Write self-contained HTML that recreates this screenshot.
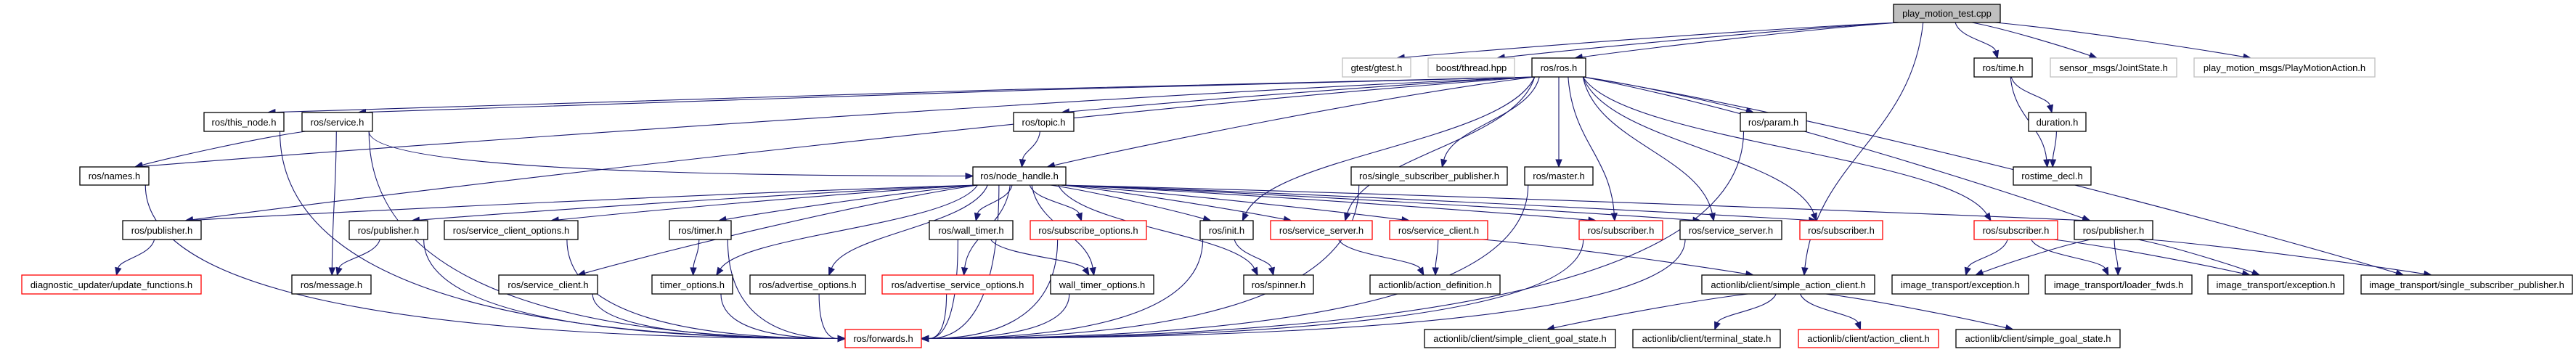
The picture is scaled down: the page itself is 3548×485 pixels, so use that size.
<!DOCTYPE html>
<html><head><meta charset="utf-8"><style>
html,body{margin:0;padding:0;background:#fff;width:3548px;height:485px;overflow:hidden}
svg{display:block}
text{font-family:"Liberation Sans",Arial,sans-serif;font-size:13px;fill:#000}
</style></head><body>
<svg id="g" width="3548" height="485" xmlns="http://www.w3.org/2000/svg">
<g id="edges" fill="none" stroke="#191970" stroke-width="1.1"></g>
<g id="heads" fill="#191970" stroke="#191970"></g>
<g id="nodes" stroke-width="1.3">
<rect x="2608" y="6" width="147" height="25" fill="#bfbfbf" stroke="#000"/><text x="2681.5" y="23" text-anchor="middle">play_motion_test.cpp</text>
<rect x="1849" y="80" width="94" height="26" fill="#fff" stroke="#bfbfbf"/><text x="1896" y="98" text-anchor="middle">gtest/gtest.h</text>
<rect x="1967" y="80" width="119" height="26" fill="#fff" stroke="#bfbfbf"/><text x="2026.5" y="98" text-anchor="middle">boost/thread.hpp</text>
<rect x="2110" y="80" width="74" height="26" fill="#fff" stroke="#000"/><text x="2147" y="98" text-anchor="middle">ros/ros.h</text>
<rect x="2719" y="80" width="80" height="26" fill="#fff" stroke="#000"/><text x="2759" y="98" text-anchor="middle">ros/time.h</text>
<rect x="2824" y="80" width="174" height="26" fill="#fff" stroke="#bfbfbf"/><text x="2911" y="98" text-anchor="middle">sensor_msgs/JointState.h</text>
<rect x="3022" y="80" width="249" height="26" fill="#fff" stroke="#bfbfbf"/><text x="3146.5" y="98" text-anchor="middle">play_motion_msgs/PlayMotionAction.h</text>
<rect x="281" y="155" width="110" height="26" fill="#fff" stroke="#000"/><text x="336" y="173" text-anchor="middle">ros/this_node.h</text>
<rect x="416" y="155" width="97" height="26" fill="#fff" stroke="#000"/><text x="464.5" y="173" text-anchor="middle">ros/service.h</text>
<rect x="1396" y="155" width="83" height="26" fill="#fff" stroke="#000"/><text x="1437.5" y="173" text-anchor="middle">ros/topic.h</text>
<rect x="2397" y="155" width="91" height="26" fill="#fff" stroke="#000"/><text x="2442.5" y="173" text-anchor="middle">ros/param.h</text>
<rect x="2794" y="155" width="79" height="26" fill="#fff" stroke="#000"/><text x="2833.5" y="173" text-anchor="middle">duration.h</text>
<rect x="110" y="230" width="95" height="25" fill="#fff" stroke="#000"/><text x="157.5" y="247" text-anchor="middle">ros/names.h</text>
<rect x="1340" y="230" width="128" height="25" fill="#fff" stroke="#000"/><text x="1404" y="247" text-anchor="middle">ros/node_handle.h</text>
<rect x="1861" y="230" width="215" height="25" fill="#fff" stroke="#000"/><text x="1968.5" y="247" text-anchor="middle">ros/single_subscriber_publisher.h</text>
<rect x="2100" y="230" width="94" height="25" fill="#fff" stroke="#000"/><text x="2147" y="247" text-anchor="middle">ros/master.h</text>
<rect x="2773" y="230" width="107" height="25" fill="#fff" stroke="#000"/><text x="2826.5" y="247" text-anchor="middle">rostime_decl.h</text>
<rect x="169" y="304" width="108" height="26" fill="#fff" stroke="#000"/><text x="223" y="322" text-anchor="middle">ros/publisher.h</text>
<rect x="481" y="304" width="108" height="26" fill="#fff" stroke="#000"/><text x="535" y="322" text-anchor="middle">ros/publisher.h</text>
<rect x="612" y="304" width="184" height="26" fill="#fff" stroke="#000"/><text x="704" y="322" text-anchor="middle">ros/service_client_options.h</text>
<rect x="922" y="304" width="85" height="26" fill="#fff" stroke="#000"/><text x="964.5" y="322" text-anchor="middle">ros/timer.h</text>
<rect x="1280" y="304" width="115" height="26" fill="#fff" stroke="#000"/><text x="1337.5" y="322" text-anchor="middle">ros/wall_timer.h</text>
<rect x="1419" y="304" width="160" height="26" fill="#fff" stroke="#ff0000"/><text x="1499" y="322" text-anchor="middle">ros/subscribe_options.h</text>
<rect x="1653" y="304" width="73" height="26" fill="#fff" stroke="#000"/><text x="1689.5" y="322" text-anchor="middle">ros/init.h</text>
<rect x="1750" y="304" width="140" height="26" fill="#fff" stroke="#ff0000"/><text x="1820" y="322" text-anchor="middle">ros/service_server.h</text>
<rect x="1914" y="304" width="135" height="26" fill="#fff" stroke="#ff0000"/><text x="1981.5" y="322" text-anchor="middle">ros/service_client.h</text>
<rect x="2175" y="304" width="115" height="26" fill="#fff" stroke="#ff0000"/><text x="2232.5" y="322" text-anchor="middle">ros/subscriber.h</text>
<rect x="2314" y="304" width="140" height="26" fill="#fff" stroke="#000"/><text x="2384" y="322" text-anchor="middle">ros/service_server.h</text>
<rect x="2479" y="304" width="114" height="26" fill="#fff" stroke="#ff0000"/><text x="2536" y="322" text-anchor="middle">ros/subscriber.h</text>
<rect x="2719" y="304" width="115" height="26" fill="#fff" stroke="#ff0000"/><text x="2776.5" y="322" text-anchor="middle">ros/subscriber.h</text>
<rect x="2857" y="304" width="108" height="26" fill="#fff" stroke="#000"/><text x="2911" y="322" text-anchor="middle">ros/publisher.h</text>
<rect x="30" y="379" width="247" height="26" fill="#fff" stroke="#ff0000"/><text x="153.5" y="397" text-anchor="middle">diagnostic_updater/update_functions.h</text>
<rect x="402" y="379" width="109" height="26" fill="#fff" stroke="#000"/><text x="456.5" y="397" text-anchor="middle">ros/message.h</text>
<rect x="687" y="379" width="136" height="26" fill="#fff" stroke="#000"/><text x="755" y="397" text-anchor="middle">ros/service_client.h</text>
<rect x="898" y="379" width="111" height="26" fill="#fff" stroke="#000"/><text x="953.5" y="397" text-anchor="middle">timer_options.h</text>
<rect x="1033" y="379" width="159" height="26" fill="#fff" stroke="#000"/><text x="1112.5" y="397" text-anchor="middle">ros/advertise_options.h</text>
<rect x="1215" y="379" width="208" height="26" fill="#fff" stroke="#ff0000"/><text x="1319" y="397" text-anchor="middle">ros/advertise_service_options.h</text>
<rect x="1447" y="379" width="142" height="26" fill="#fff" stroke="#000"/><text x="1518" y="397" text-anchor="middle">wall_timer_options.h</text>
<rect x="1713" y="379" width="96" height="26" fill="#fff" stroke="#000"/><text x="1761" y="397" text-anchor="middle">ros/spinner.h</text>
<rect x="1887" y="379" width="179" height="26" fill="#fff" stroke="#000"/><text x="1976.5" y="397" text-anchor="middle">actionlib/action_definition.h</text>
<rect x="2344" y="379" width="238" height="26" fill="#fff" stroke="#000"/><text x="2463" y="397" text-anchor="middle">actionlib/client/simple_action_client.h</text>
<rect x="2606" y="379" width="188" height="26" fill="#fff" stroke="#000"/><text x="2700" y="397" text-anchor="middle">image_transport/exception.h</text>
<rect x="2817" y="379" width="202" height="26" fill="#fff" stroke="#000"/><text x="2918" y="397" text-anchor="middle">image_transport/loader_fwds.h</text>
<rect x="3041" y="379" width="187" height="26" fill="#fff" stroke="#000"/><text x="3134.5" y="397" text-anchor="middle">image_transport/exception.h</text>
<rect x="3252" y="379" width="291" height="26" fill="#fff" stroke="#000"/><text x="3397.5" y="397" text-anchor="middle">image_transport/single_subscriber_publisher.h</text>
<rect x="1164" y="454" width="105" height="25" fill="#fff" stroke="#ff0000"/><text x="1216.5" y="471" text-anchor="middle">ros/forwards.h</text>
<rect x="1962" y="454" width="263" height="25" fill="#fff" stroke="#000"/><text x="2093.5" y="471" text-anchor="middle">actionlib/client/simple_client_goal_state.h</text>
<rect x="2249" y="454" width="203" height="25" fill="#fff" stroke="#000"/><text x="2350.5" y="471" text-anchor="middle">actionlib/client/terminal_state.h</text>
<rect x="2477" y="454" width="193" height="25" fill="#fff" stroke="#ff0000"/><text x="2573.5" y="471" text-anchor="middle">actionlib/client/action_client.h</text>
<rect x="2694" y="454" width="226" height="25" fill="#fff" stroke="#000"/><text x="2807" y="471" text-anchor="middle">actionlib/client/simple_goal_state.h</text>
</g>
</svg>
<script>
(function(){
var N={
pm:[2608,2755,6],gt:[1849,1943,80],bt:[1967,2086,80],ros:[2110,2184,80],tm:[2719,2799,80],js:[2824,2998,80],pma:[3022,3271,80],
tn:[281,391,155],sv:[416,513,155],tp:[1396,1479,155],pr:[2397,2488,155],du:[2794,2873,155],
nm:[110,205,230],nh:[1340,1468,230],ssp:[1861,2076,230],ms:[2100,2194,230],rd:[2773,2880,230],
p1:[169,277,304],p2:[481,589,304],sco:[612,796,304],ti:[922,1007,304],wt:[1280,1395,304],so:[1419,1579,304],in:[1653,1726,304],
ssr:[1750,1890,304],scr:[1914,2049,304],sb1:[2175,2290,304],ssb:[2314,2454,304],sb2:[2479,2593,304],sb3:[2719,2834,304],p3:[2857,2965,304],
du2:[30,277,379],mg:[402,511,379],sc:[687,823,379],to:[898,1009,379],ao:[1033,1192,379],aso:[1215,1423,379],wto:[1447,1589,379],sp:[1713,1809,379],
ad:[1887,2066,379],sac:[2344,2582,379],ie1:[2606,2794,379],lf:[2817,3019,379],ie2:[3041,3228,379],issp:[3252,3543,379],
fw:[1164,1269,454],scg:[1962,2225,454],ts:[2249,2452,454],ac:[2477,2670,454],sg:[2694,2920,454]};
var E=[['pm','gt'],['pm','bt'],['pm','ros'],['pm','tm'],['pm','js'],['pm','pma'],['pm','sac'],
['ros','tn'],['ros','sv'],['ros','nm'],['ros','p1'],['ros','tp'],['ros','nh'],['ros','ssp'],['ros','ms'],['ros','pr'],['ros','in'],['ros','ssr'],['ros','sb1'],['ros','ssb'],['ros','sb2'],['ros','sb3'],['ros','p3'],['ros','issp'],
['sv','nm'],['sv','mg'],['sv','fw'],['sv','nh','side'],['tn','fw'],['nm','fw'],['tp','nh'],
['nh','p1'],['nh','p2'],['nh','sco'],['nh','ti'],['nh','sc'],['nh','to'],['nh','ao'],['nh','aso'],['nh','wt'],['nh','wto'],['nh','so'],['nh','in'],['nh','sp'],['nh','ssr'],['nh','scr'],['nh','sb1'],['nh','ssb'],['nh','sb2'],['nh','p3'],['nh','fw'],
['p1','du2'],['p2','mg'],['p2','fw'],['sco','fw'],['ti','to'],['ti','fw'],['sc','fw'],['to','fw'],['ao','fw'],['aso','fw'],['wt','wto'],['wt','fw'],['wto','fw'],['so','fw'],['in','sp'],['in','fw'],
['ssr','ad'],['scr','ad'],['scr','sac'],['ssp','fw'],['ms','fw'],['sb1','fw'],['ssb','fw'],['pr','fw'],
['sac','scg'],['sac','ts'],['sac','ac'],['sac','sg'],['sb3','ie1'],['sb3','lf'],['sb3','ie2'],['p3','ie1'],['p3','lf'],['p3','ie2'],['p3','issp'],
['tm','du'],['tm','rd'],['du','rd']];
var eg=document.getElementById('edges'),hg=document.getElementById('heads'),ns='http://www.w3.org/2000/svg';
function H(b){return b[2]==6||b[2]==230||b[2]==454?25:26;}
function head(ax,ay,vx,vy){
 var L=Math.sqrt(vx*vx+vy*vy)||1;vx/=L;vy/=L;
 var bx=ax-vx*10,by=ay-vy*10;
 var a=document.createElementNS(ns,'polygon');
 a.setAttribute('points',ax+','+ay+' '+(bx-vy*4)+','+(by+vx*4)+' '+(bx+vy*4)+','+(by-vx*4));
 hg.appendChild(a);return [bx,by];
}
E.forEach(function(e){
 var s=N[e[0]],t=N[e[1]];
 var sc=(s[0]+s[1])/2,tc=(t[0]+t[1])/2,sw=s[1]-s[0],tw=t[1]-t[0];
 var sy=s[2]+H(s),ty=t[2],d;
 var dx=tc-sc;
 var sx=sc+Math.max(-sw*0.45,Math.min(sw*0.45,dx*0.15));
 var p=document.createElementNS(ns,'path');
 var side=(e[2]=='side')||(e[1]=='fw'&&(sc<t[0]-30||sc>t[1]+30));
 if(side){
  var left=sc<tc;
  var ex=left?t[0]:t[1], ey=t[2]+H(t)/2;
  var b=head(ex,ey,left?1:-1,0);
  var dy=ey-sy;
  d='M'+sx+','+sy+' C'+sx+','+(sy+dy*0.8)+' '+(b[0]+(left?-Math.abs(b[0]-sx)*0.5:Math.abs(b[0]-sx)*0.5))+','+ey+' '+b[0]+','+ey;
 } else {
  var ex=tc-Math.max(-tw*0.3,Math.min(tw*0.3,dx*0.1)),ey=ty;
  var dy=ty-sy;
  var c1x=sx+(ex-sx)*0.1,c1y=sy+dy*0.45,c2x=ex-(ex-sx)*0.1,c2y=ey-dy*0.45;
  if(Math.abs(ex-sx)>3*dy){c1x=sx+(ex-sx)*0.3;c1y=sy+dy*0.2;c2x=ex-(ex-sx)*0.2;c2y=ey-dy*0.25;}
  var b=head(ex,ey,ex-c2x,ey-c2y);
  d='M'+sx+','+sy+' C'+c1x+','+c1y+' '+c2x+','+c2y+' '+b[0]+','+b[1];
 }
 p.setAttribute('d',d);eg.appendChild(p);
});
})();
</script>
</body></html>
